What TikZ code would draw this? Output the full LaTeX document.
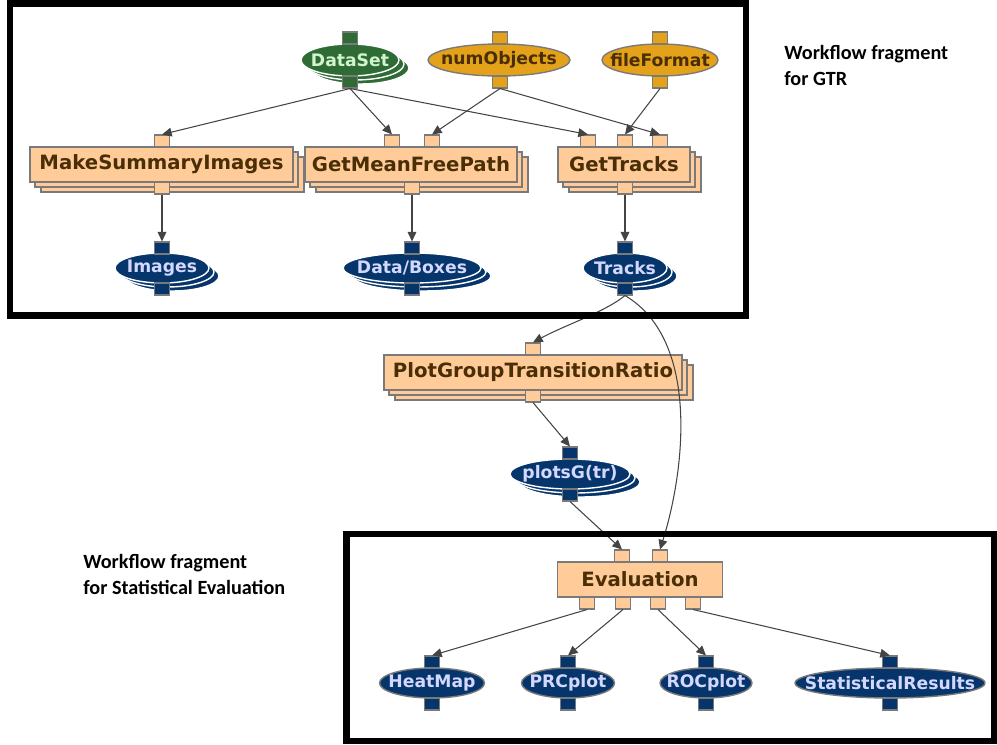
\documentclass[tikz,border=0pt]{standalone}
\usepackage{fontspec}
\setmainfont{DejaVu Sans}
\newfontfamily\notefont{Carlito}
\usetikzlibrary{shapes.geometric,arrows.meta}

\definecolor{peach}{HTML}{FFCC99}
\definecolor{rim}{HTML}{7A7A7A}
\definecolor{bark}{HTML}{4A2E05}
\definecolor{navy}{HTML}{06356B}
\definecolor{lilac}{HTML}{D4D8FF}
\definecolor{moss}{HTML}{2F6B35}
\definecolor{mint}{HTML}{D2F5CF}
\definecolor{amber}{HTML}{E3A21A}
\definecolor{wire}{HTML}{444444}

\begin{document}
\begin{tikzpicture}[x=0.02cm,y=-0.02cm,
        task/.style={draw=rim,fill=peach,text=bark,line width=0.8pt,inner sep=0pt,
          minimum height=0.7cm,font=\bfseries\fontsize{11.2}{13}\selectfont},
        taskstack/.style={task,
          preaction={draw=rim,fill=peach,transform canvas={shift={(11,10)}}},
          preaction={draw=rim,fill=peach,transform canvas={shift={(5,5)}}}},
        item/.style={ellipse,inner sep=0pt,minimum height=0.6cm,line width=0.8pt,
          font=\bfseries\fontsize{9.8}{11}\selectfont,
          execute at begin node=\hbox to 0pt\bgroup\hss,execute at end node=\hss\egroup},
        param/.style={item,draw=rim,fill=amber,text=bark},
        result/.style={item,draw=rim,fill=navy,text=lilac},
        datastack/.style={item,draw=white,fill=navy,text=lilac,
          preaction={draw=white,fill=navy,transform canvas={shift={(10,8)}}},
          preaction={draw=white,fill=navy,transform canvas={shift={(5,4)}}}},
        setstack/.style={item,draw=white,fill=moss,text=mint,
          preaction={draw=white,fill=moss,transform canvas={shift={(10,8)}}},
          preaction={draw=white,fill=moss,transform canvas={shift={(5,4)}}}},
        port/.style={draw=rim,line width=0.6pt,minimum width=0.3cm,minimum height=0.24cm,inner sep=0pt},
        pport/.style={port,fill=peach},
        nport/.style={port,fill=navy},
        gport/.style={port,fill=moss},
        aport/.style={port,fill=amber},
        flow/.style={draw=wire,line width=0.6pt,-{Triangle[length=5.5pt,width=5pt]}},
        frame/.style={draw=black,line width=0.13cm},
        note/.style={align=left,anchor=west,inner sep=0pt,
          font=\notefont\bfseries\fontsize{11.5}{14.8}\selectfont}]
        \useasboundingbox (0,0) rectangle (997,744);

        \node[setstack,minimum width=1.96cm,minimum height=0.64cm] (DS) at (350,60) {DataSet};
        \node[param,minimum width=2.84cm,minimum height=0.64cm] (NO) at (499,60) {numObjects};
        \node[param,minimum width=2.32cm,minimum height=0.64cm] (FF) at (660,60) {fileFormat};
        \node[gport] (DSi) at (350,38) {};
        \node[gport] (DSo) at (350,82) {};
        \node[aport] (NOi) at (500,38) {};
        \node[aport] (NOo) at (500,82) {};
        \node[aport] (FFi) at (660,38) {};
        \node[aport] (FFo) at (660,82) {};

        \node[taskstack,minimum width=5.26cm] (MSI) at (161.5,164.5) {MakeSummaryImages};
        \node[taskstack,minimum width=4.24cm] (GMFP) at (411,164.5) {GetMeanFreePath};
        \node[taskstack,minimum width=2.64cm] (GT) at (624,164.5) {GetTracks};
        \node[pport] (MSIi) at (162,141) {};
        \node[pport] (MSIo) at (162,188) {};
        \node[pport] (GMFPi1) at (392,141) {};
        \node[pport] (GMFPi2) at (432,141) {};
        \node[pport] (GMFPo) at (412,188) {};
        \node[pport] (GTi1) at (588,141) {};
        \node[pport] (GTi2) at (625,141) {};
        \node[pport] (GTi3) at (660,141) {};
        \node[pport] (GTo) at (625,188) {};

        \node[datastack,minimum width=1.88cm] (IMG) at (162,268) {Images};
        \node[datastack,minimum width=2.76cm] (DB) at (412,268) {Data/Boxes};
        \node[datastack,minimum width=1.68cm] (TR) at (625,268) {Tracks};
        \node[nport] (IMGi) at (162,248) {};
        \node[nport] (IMGo) at (162,289) {};
        \node[nport] (DBi) at (412,248) {};
        \node[nport] (DBo) at (412,289) {};
        \node[nport] (TRi) at (625,248) {};
        \node[nport] (TRo) at (625,289) {};

        \node[taskstack,minimum width=5.96cm] (PGTR) at (533,372.5) {PlotGroupTransitionRatio};
        \node[pport] (PGTRi) at (533,349) {};
        \node[pport] (PGTRo) at (533,396) {};

        \node[datastack,minimum width=2.4cm] (PG) at (570,474) {plotsG(tr)};
        \node[nport] (PGi) at (570,453) {};
        \node[nport] (PGo) at (570,495) {};

        \node[task,minimum width=3.3cm] (EV) at (640,579.5) {Evaluation};
        \node[pport] (EVi1) at (622,556) {};
        \node[pport] (EVi2) at (660,556) {};
        \node[pport] (EVo1) at (587,603) {};
        \node[pport] (EVo2) at (623,603) {};
        \node[pport] (EVo3) at (658,603) {};
        \node[pport] (EVo4) at (693,603) {};

        \node[result,minimum width=2.1cm] (HM) at (432,683) {HeatMap};
        \node[result,minimum width=1.86cm] (PRC) at (568,683) {PRCplot};
        \node[result,minimum width=1.84cm] (ROC) at (706,683) {ROCplot};
        \node[result,minimum width=3.8cm] (SR) at (890,683) {StatisticalResults};
        \node[nport] (HMi) at (432,662) {};
        \node[nport] (HMo) at (432,704) {};
        \node[nport] (PRCi) at (568,662) {};
        \node[nport] (PRCo) at (568,704) {};
        \node[nport] (ROCi) at (706,662) {};
        \node[nport] (ROCo) at (706,704) {};
        \node[nport] (SRi) at (890,662) {};
        \node[nport] (SRo) at (890,704) {};

        \draw[flow] (DSo.south) -- (MSIi.north);
        \draw[flow] (DSo.south) -- (GMFPi1.north);
        \draw[flow] (DSo.south) -- (GTi1.north);
        \draw[flow] (NOo.south) -- (GMFPi2.north);
        \draw[flow] (NOo.south) -- (GTi3.north);
        \draw[flow] (FFo.south) -- (GTi2.north);
        \draw[flow] (MSIo.south) -- (IMGi.north);
        \draw[flow] (GMFPo.south) -- (DBi.north);
        \draw[flow] (GTo.south) -- (TRi.north);
        \draw[flow] (TRo.south) .. controls (605,312) and (565,325) .. (PGTRi.north);
        \draw[flow] (TRo.south) .. controls (700,340) and (685,470) .. (EVi2.north);
        \draw[flow] (PGTRo.south) -- (PGi.north);
        \draw[flow] (PGo.south) -- (EVi1.north);
        \draw[flow] (EVo1.south) -- (HMi.north);
        \draw[flow] (EVo2.south) -- (PRCi.north);
        \draw[flow] (EVo3.south) -- (ROCi.north);
        \draw[flow] (EVo4.south) -- (SRi.north);

        \draw[frame] (10.25,3.25) rectangle (746,315.5);
        \draw[frame] (346.5,534) rectangle (993.75,740.75);
        \node[note] (GTRnote) at (784,65) {Workflow fragment\\for GTR};
        \node[note] (SEnote) at (83,574) {Workflow fragment\\for Statistical Evaluation};
\end{tikzpicture}
\end{document}
